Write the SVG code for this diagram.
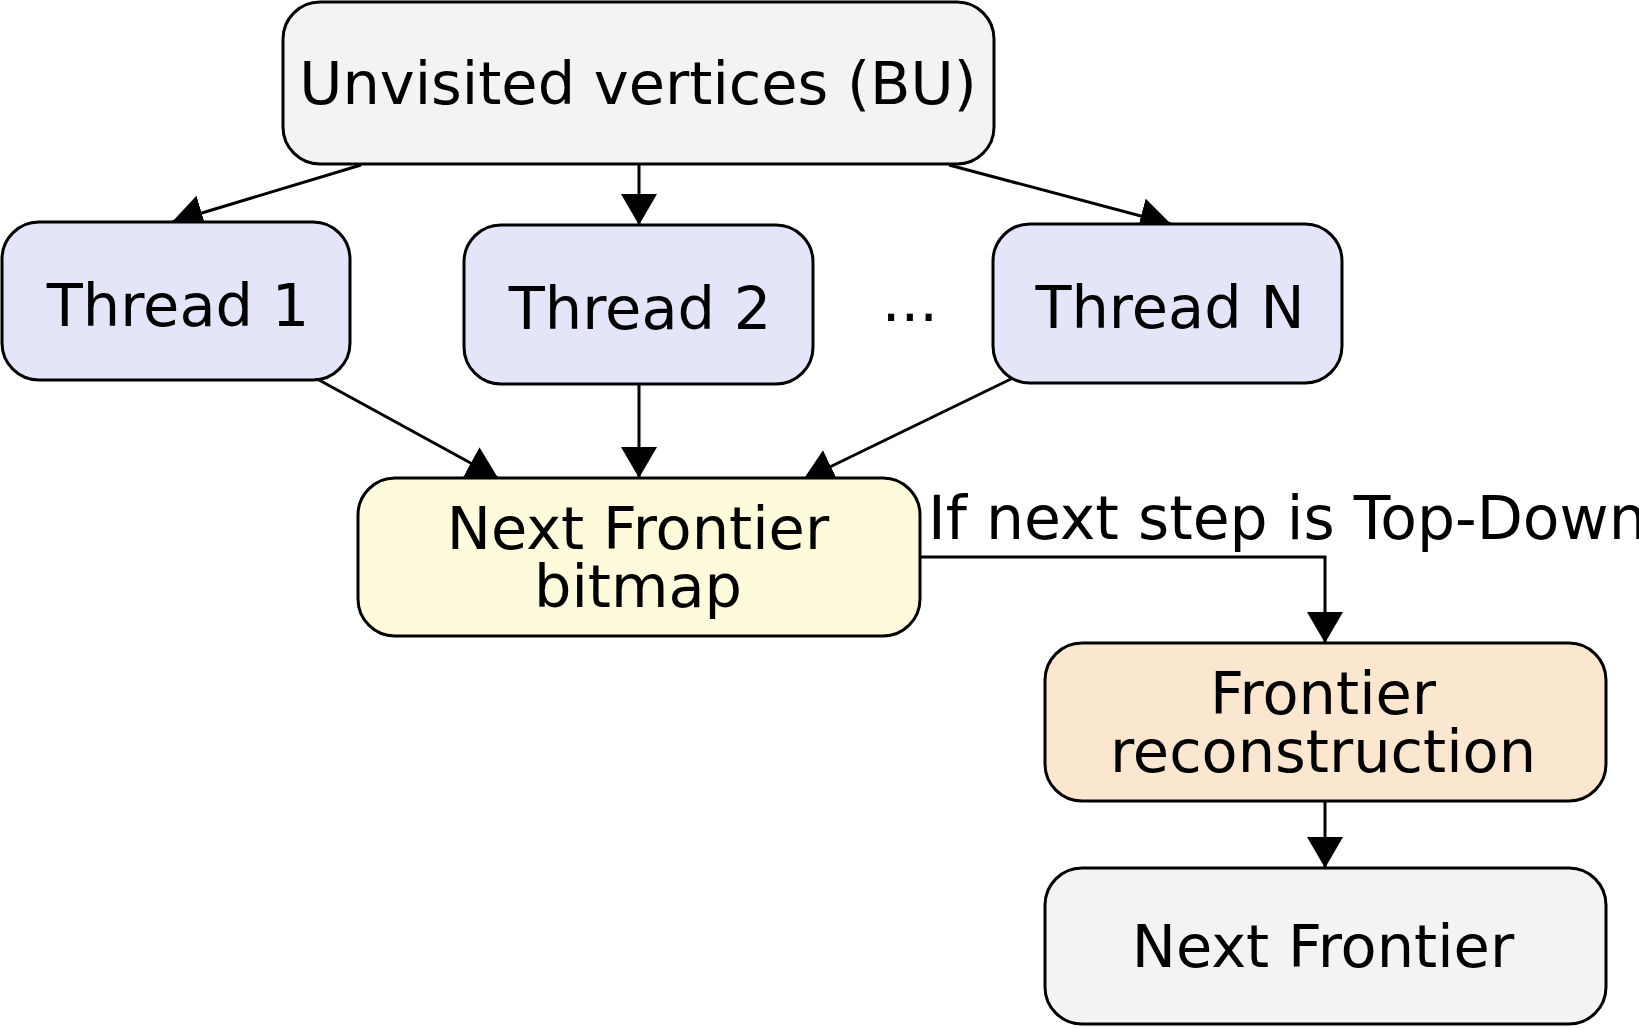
<svg xmlns="http://www.w3.org/2000/svg" width="1639" height="1028" viewBox="0 0 1639 1028">
<style>
.box{stroke:#000;stroke-width:3}
.t{font-family:"DejaVu Sans",Verdana,sans-serif;font-size:59px;fill:#000;text-anchor:middle}
.lbl{font-family:"DejaVu Sans",Verdana,sans-serif;font-size:60px;fill:#000}
.c{fill:none;stroke:#000;stroke-width:3}
</style>
<defs>
<marker id="arr" markerUnits="userSpaceOnUse" markerWidth="34" markerHeight="38" refX="31" refY="18" orient="auto">
<path d="M0,0 L31,18 L0,36 Z" fill="#000"/>
</marker>
</defs>
<rect width="1639" height="1028" fill="#fff"/>
<g id="connectors">
<line class="c" x1="361" y1="165" x2="172" y2="222" marker-end="url(#arr)"/>
<line class="c" x1="639" y1="165" x2="639" y2="225" marker-end="url(#arr)"/>
<line class="c" x1="949" y1="165" x2="1171" y2="224" marker-end="url(#arr)"/>
<line class="c" x1="319" y1="380" x2="498" y2="478" marker-end="url(#arr)"/>
<line class="c" x1="639" y1="384" x2="639" y2="478" marker-end="url(#arr)"/>
<line class="c" x1="1013" y1="378" x2="803" y2="480" marker-end="url(#arr)"/>
<polyline class="c" points="920,557 1325,557 1325,643" marker-end="url(#arr)"/>
<line class="c" x1="1325" y1="801" x2="1325" y2="868" marker-end="url(#arr)"/>
<text class="lbl" x="928" y="539">If next step is Top-Down</text>
</g>
<g id="unvisited">
<rect class="box" x="283" y="2" width="711" height="162" rx="37" ry="37" fill="#f3f3f3"/>
<text class="t" x="638" y="104">Unvisited vertices (BU)</text>
</g>
<g id="thread1">
<rect class="box" x="2" y="222" width="348" height="158" rx="37" ry="37" fill="#e5e5fa"/>
<text class="t" x="178" y="326">Thread 1</text>
</g>
<g id="thread2">
<rect class="box" x="464" y="225" width="349" height="159" rx="37" ry="37" fill="#e5e5fa"/>
<text class="t" x="640" y="329">Thread 2</text>
</g>
<g id="ellipsis">
<text class="t" x="910" y="321">...</text>
</g>
<g id="threadN">
<rect class="box" x="993" y="224" width="349" height="159" rx="37" ry="37" fill="#e5e5fa"/>
<text class="t" x="1170" y="328">Thread N</text>
</g>
<g id="bitmap">
<rect class="box" x="358" y="478" width="562" height="158" rx="37" ry="37" fill="#fdfbdc"/>
<text class="t" x="638" y="549">Next Frontier</text>
<text class="t" x="638" y="607">bitmap</text>
</g>
<g id="reconstruction">
<rect class="box" x="1045" y="643" width="561" height="158" rx="37" ry="37" fill="#fbe6d0"/>
<text class="t" x="1323" y="714">Frontier</text>
<text class="t" x="1323" y="772">reconstruction</text>
</g>
<g id="nextFrontier">
<rect class="box" x="1045" y="868" width="561" height="156" rx="37" ry="37" fill="#f3f3f3"/>
<text class="t" x="1323" y="967">Next Frontier</text>
</g>
</svg>
